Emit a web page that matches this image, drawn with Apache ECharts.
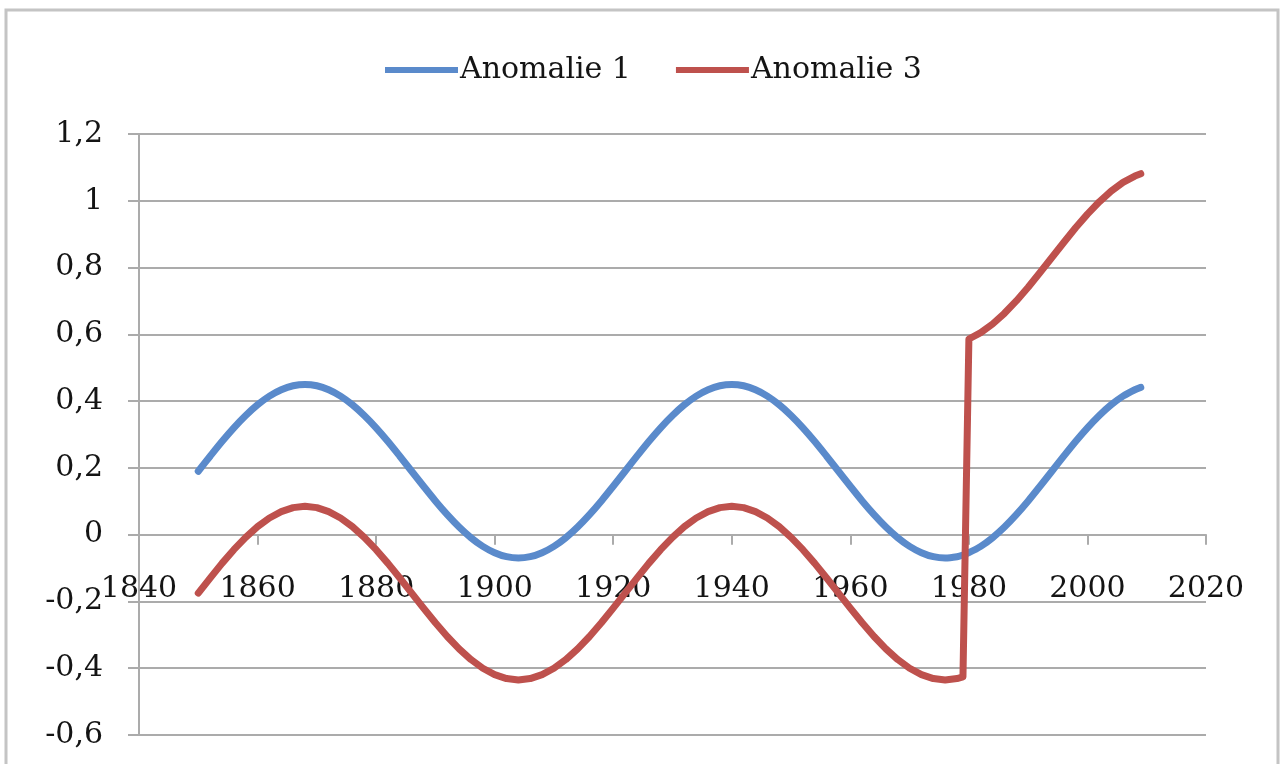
<!DOCTYPE html>
<html>
<head>
<meta charset="utf-8">
<script src="https://cdn.jsdelivr.net/npm/echarts@6/dist/echarts.min.js"></script>
<style>
html,body{margin:0;padding:0;background:#fff;}
#chart{width:1281px;height:764px;}
</style>
</head>
<body>
<div id="chart"></div>
<script>
const seriesNames = ['Anomalie 1', 'Anomalie 3'];
const xTicks = [1840, 1860, 1880, 1900, 1920, 1940, 1960, 1980, 2000, 2020];
const yTicks = [-0.6, -0.4, -0.2, 0, 0.2, 0.4, 0.6, 0.8, 1, 1.2];

const years = [1850,1852,1854,1856,1858,1860,1862,1864,1866,1868,
1870,1872,1874,1876,1878,1880,1882,1884,1886,1888,
1890,1892,1894,1896,1898,1900,1902,1904,1906,1908,
1910,1912,1914,1916,1918,1920,1922,1924,1926,1928,
1930,1932,1934,1936,1938,1940,1942,1944,1946,1948,
1950,1952,1954,1956,1958,1960,1962,1964,1966,1968,
1970,1972,1974,1976,1978,1979,1980,1982,1984,1986,
1988,1990,1992,1994,1996,1998,2000,2002,2004,2006,
2008,2009];

const anomalie1 = [0.19,0.235,0.279,0.32,0.357,0.389,0.415,0.434,0.446,0.45,
0.446,0.434,0.415,0.389,0.357,0.32,0.279,0.235,0.19,0.145,
0.101,0.06,0.023,-0.009,-0.035,-0.054,-0.066,-0.07,-0.066,-0.054,
-0.035,-0.009,0.023,0.06,0.101,0.145,0.19,0.235,0.279,0.32,
0.357,0.389,0.415,0.434,0.446,0.45,0.446,0.434,0.415,0.389,
0.357,0.32,0.279,0.235,0.19,0.145,0.101,0.06,0.023,-0.009,
-0.035,-0.054,-0.066,-0.07,-0.066,-0.061,-0.054,-0.035,-0.009,0.023,
0.06,0.101,0.145,0.19,0.235,0.279,0.32,0.357,0.389,0.415,
0.434,0.441];

const anomalie3 = [-0.175,-0.13,-0.086,-0.045,-0.008,0.024,0.05,0.069,0.081,0.085,
0.081,0.069,0.05,0.024,-0.008,-0.045,-0.086,-0.13,-0.175,-0.22,
-0.264,-0.305,-0.342,-0.374,-0.4,-0.419,-0.431,-0.435,-0.431,-0.419,
-0.4,-0.374,-0.342,-0.305,-0.264,-0.22,-0.175,-0.13,-0.086,-0.045,
-0.008,0.024,0.05,0.069,0.081,0.085,0.081,0.069,0.05,0.024,
-0.008,-0.045,-0.086,-0.13,-0.175,-0.22,-0.264,-0.305,-0.342,-0.374,
-0.4,-0.419,-0.431,-0.435,-0.431,-0.426,0.586,0.605,0.631,0.663,
0.70,0.741,0.785,0.83,0.875,0.919,0.96,0.997,1.029,1.055,
1.074,1.081];

const chart = echarts.init(document.getElementById('chart'));
const font = '"DejaVu Serif", "Liberation Serif", serif';
const gray = '#ababab';
const txt = '#141414';

const gridTop = 134, gridBottom = 29, H = 764;
const plotH = H - gridTop - gridBottom;
const yMin = yTicks[0], yMax = yTicks[yTicks.length - 1];
// distance of the zero line above the bottom of the plot area
const zeroOffset = -plotH * (0 - yMin) / (yMax - yMin);

chart.setOption({
  backgroundColor: '#ffffff',
  animation: false,
  graphic: [{
    type: 'rect',
    shape: {x: 6, y: 10, width: 1272, height: 800},
    style: {fill: 'none', stroke: '#c4c4c4', lineWidth: 3},
    silent: true
  }],
  legend: {
    data: seriesNames.map(n => ({name: n, icon: 'rect'})),
    left: 380,
    top: 50,
    itemWidth: 73,
    itemHeight: 6,
    itemGap: 45,
    textStyle: {fontFamily: font, fontSize: 30, color: txt, padding: [0, 0, 0, -3]}
  },
  grid: {left: 139, right: 75, top: gridTop, bottom: gridBottom, containLabel: false, outerBoundsMode: 'none'},
  xAxis: {
    type: 'value',
    min: xTicks[0],
    max: xTicks[xTicks.length - 1],
    interval: 20,
    offset: zeroOffset,
    axisLine: {show: true, onZero: false, lineStyle: {color: gray, width: 2}},
    axisTick: {show: true, length: 10, lineStyle: {color: gray, width: 2}},
    splitLine: {show: false},
    axisLabel: {
      fontFamily: font, fontSize: 30, color: txt, margin: 40,
      formatter: v => String(v)
    }
  },
  yAxis: {
    type: 'value',
    min: yMin,
    max: yMax,
    interval: 0.2,
    axisLine: {show: true, onZero: false, lineStyle: {color: gray, width: 2}},
    axisTick: {show: true, length: 11, lineStyle: {color: gray, width: 2}},
    splitLine: {show: true, lineStyle: {color: gray, width: 2}},
    axisLabel: {
      fontFamily: font, fontSize: 30, color: txt, margin: 36,
      formatter: v => String(Math.round(v * 10) / 10).replace('.', ',')
    }
  },
  series: [
    {
      name: seriesNames[0],
      type: 'line',
      data: years.map((y, i) => [y, anomalie1[i]]),
      showSymbol: false,
      symbol: 'none',
      smooth: 0.3,
      color: '#5A8ACB',
      lineStyle: {width: 7, color: '#5A8ACB', cap: 'round', join: 'round'},
      z: 3
    },
    {
      name: seriesNames[1],
      type: 'line',
      data: years.map((y, i) => [y, anomalie3[i]]),
      showSymbol: false,
      symbol: 'none',
      color: '#BE514D',
      lineStyle: {width: 7, color: '#BE514D', cap: 'round', join: 'round'},
      z: 4
    }
  ]
});
</script>
</body>
</html>
